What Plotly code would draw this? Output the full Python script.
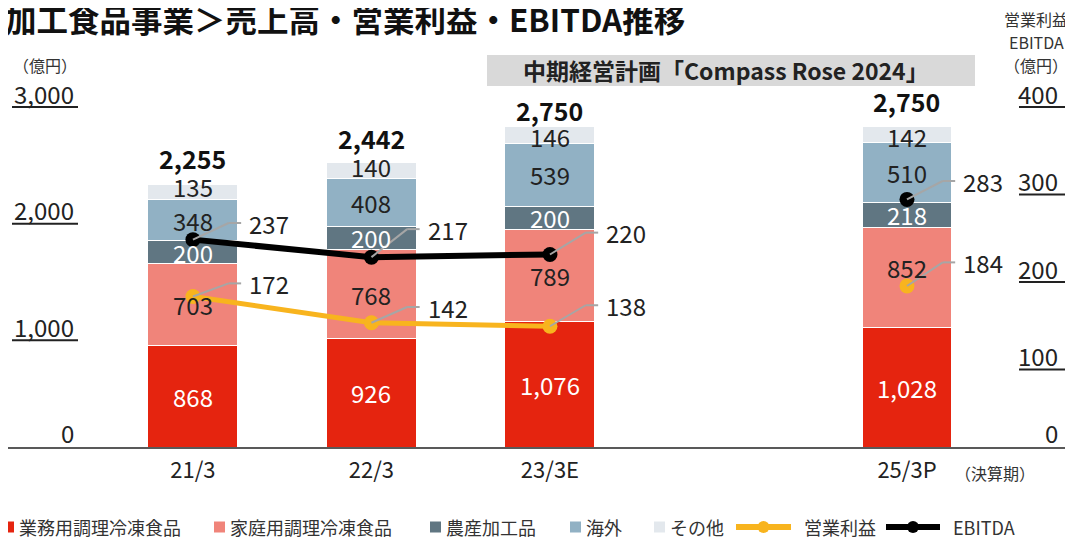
import plotly.graph_objects as go

# data (億円)
periods = ["21/3", "22/3", "23/3E", " ", "25/3P"]
gyomu = [868, 926, 1076, None, 1028]      # 業務用調理冷凍食品
katei = [703, 768, 789, None, 852]        # 家庭用調理冷凍食品
nosan = [200, 200, 200, None, 218]        # 農産加工品
kaigai = [348, 408, 539, None, 510]       # 海外
sonota = [135, 140, 146, None, 142]       # その他
totals = [2255, 2442, 2750, None, 2750]
op_profit = [172, 142, 138, None, 184]    # 営業利益
ebitda = [237, 217, 220, None, 283]       # EBITDA

left_ticks = [0, 1000, 2000, 3000]
right_ticks = [0, 100, 200, 300, 400]

FONT = "Noto Sans CJK JP"
DARK = "#222222"

# the page body has an 8px margin, so the figure is 8px smaller than the window
# and positions below are given in window pixels
OFF = 8
FIG_W, FIG_H = 1073 - OFF, 539 - OFF
PLOT_TOP, PLOT_BOTTOM = 97, 447          # window y of 3000 / 0


def px(xpix):
    return (xpix - OFF) / FIG_W


def py(ypix):
    return (PLOT_BOTTOM - ypix) / (PLOT_BOTTOM - PLOT_TOP)


fig = go.Figure()

RED, SALMON, SLATE, BLUE, PALE = "#E5240F", "#F0847A", "#607682", "#91B1C4", "#E3E8ED"
GOLD = "#F8B41E"

annotations = []
shapes = []

bar_series = [
    ("業務用調理冷凍食品", gyomu, RED, "white", [0, 0, 0, 0, 0]),
    ("家庭用調理冷凍食品", katei, SALMON, DARK, [0, 0, 0, 0, 10]),
    ("農産加工品", nosan, SLATE, "white", [0, 0, 0, 0, 0]),
    ("海外", kaigai, BLUE, DARK, [0, 0, 0, 0, 0]),
    ("その他", sonota, PALE, DARK, [5, 4, -2, 0, -2]),
]
base = [0] * len(periods)
for name, vals, color, tcolor, lshift in bar_series:
    fig.add_trace(go.Bar(
        x=periods, y=vals, name=name,
        marker=dict(color=color, line=dict(color="white", width=1)),
        width=0.504, hoverinfo="skip", showlegend=False,
    ))
    # segment value labels, centred in each segment
    for i, v in enumerate(vals):
        if v is None:
            continue
        annotations.append(dict(
            x=i, y=base[i] + v / 2, xref="x", yref="y", text=f"{v:,}",
            showarrow=False, xanchor="center", yanchor="middle",
            yshift=lshift[i],
            font=dict(family=FONT, size=24, color=tcolor),
        ))
        base[i] += v

fig.add_trace(go.Scatter(
    x=periods, y=op_profit, name="営業利益", yaxis="y2",
    mode="lines+markers", connectgaps=False,
    line=dict(color=GOLD, width=5),
    marker=dict(size=15, color=GOLD), showlegend=False,
))
fig.add_trace(go.Scatter(
    x=periods, y=ebitda, name="EBITDA", yaxis="y2",
    mode="lines+markers", connectgaps=False,
    line=dict(color="black", width=6),
    marker=dict(size=15, color="black"), showlegend=False,
))

# total labels above the bars
total_shift = [26, 24, 16, 0, 25]
for i, t in enumerate(totals):
    if t is None:
        continue
    annotations.append(dict(
        x=i, y=t, xref="x", yref="y", text=f"<b>{t:,}</b>",
        showarrow=False, xanchor="center", yanchor="middle",
        yshift=total_shift[i],
        font=dict(family=FONT, size=25, color="#111111"),
    ))

# leader lines + value labels for the two lines (offsets in y2 units)
op_dy = [15, 18, 24, 0, 27]
eb_dy = [19, 32, 25, 0, 21]
for vals, dys in [(op_profit, op_dy), (ebitda, eb_dy)]:
    for i, v in enumerate(vals):
        if v is None:
            continue
        yl = v + dys[i]
        shapes.append(dict(type="line", xref="x", yref="y2",
                           x0=i, y0=v, x1=i + 0.2, y1=yl,
                           line=dict(color="#A6A6A6", width=2)))
        shapes.append(dict(type="line", xref="x", yref="y2",
                           x0=i + 0.2, y0=yl, x1=i + 0.27, y1=yl,
                           line=dict(color="#A6A6A6", width=2)))
        annotations.append(dict(
            x=i + 0.27, y=yl, xref="x", yref="y2", text=str(v),
            showarrow=False, xanchor="left", yanchor="middle", xshift=6,
            font=dict(family=FONT, size=24, color=DARK),
        ))

# axis tick labels with underlines
for v in left_ticks:
    annotations.append(dict(
        x=px(76), y=v, xref="paper", yref="y", text=f"{v:,}",
        showarrow=False, xanchor="right", yanchor="middle",
        yshift=15 if v == 0 else 4,
        font=dict(family=FONT, size=24, color=DARK),
    ))
    if v:
        shapes.append(dict(type="line", xref="paper", yref="y",
                           ysizemode="pixel", yanchor=v, y0=-10, y1=-10,
                           x0=px(12), x1=px(78),
                           line=dict(color="#222222", width=2)))
for v in right_ticks:
    annotations.append(dict(
        x=px(1060), y=v, xref="paper", yref="y2", text=f"{v:,}",
        showarrow=False, xanchor="right", yanchor="middle",
        yshift=15 if v == 0 else 4,
        font=dict(family=FONT, size=24, color=DARK),
    ))
    if v:
        shapes.append(dict(type="line", xref="paper", yref="y2",
                           ysizemode="pixel", yanchor=v, y0=-10, y1=-10,
                           x0=px(1019), x1=1.0,
                           line=dict(color="#222222", width=2)))

# unit labels
small = dict(family=FONT, size=16, color="#333333")
for text, x, y in [("（億円）", 45, 65), ("営業利益", 1036, 19),
                   ("EBITDA", 1036, 42), ("（億円）", 1036, 65),
                   ("（決算期）", 995, 473)]:
    annotations.append(dict(x=px(x), y=py(y), xref="paper", yref="paper",
                            text=text, showarrow=False, xanchor="center",
                            yanchor="middle", font=small))

# title
annotations.append(dict(
    x=px(3), y=py(18), xref="paper", yref="paper", xanchor="left",
    yanchor="middle",
    text="<b>加工食品事業＞売上高・営業利益・EBITDA推移</b>", showarrow=False,
    font=dict(family=FONT, size=31.5, color="#111111"),
))

# mid-term plan header box
shapes.append(dict(type="rect", xref="paper", yref="paper",
                   x0=px(487), x1=px(975), y0=py(86), y1=py(55),
                   fillcolor="#D9D9D9", line=dict(width=0), layer="below"))
annotations.append(dict(
    x=px(726), y=py(70), xref="paper", yref="paper",
    xanchor="center", yanchor="middle",
    text="<b>中期経営計画「Compass Rose 2024」</b>", showarrow=False,
    font=dict(family=FONT, size=23, color="#222222"),
))

# legend drawn along the bottom
LEG_Y = 527
leg_font = dict(family=FONT, size=18, color="#333333")
square_items = [("業務用調理冷凍食品", RED, 3), ("家庭用調理冷凍食品", SALMON, 214),
                ("農産加工品", SLATE, 430), ("海外", BLUE, 570), ("その他", PALE, 654)]
for text, color, x in square_items:
    shapes.append(dict(type="rect", xref="paper", yref="paper",
                       x0=px(x), x1=px(x + 11), y0=py(LEG_Y + 5.5),
                       y1=py(LEG_Y - 5.5), fillcolor=color, line=dict(width=0)))
    annotations.append(dict(x=px(x + 14), y=py(LEG_Y), xref="paper",
                            yref="paper", text=text, showarrow=False,
                            xanchor="left", yanchor="middle", font=leg_font))
line_items = [("営業利益", GOLD, 736, 791), ("EBITDA", "black", 886, 940)]
for text, color, x0, x1 in line_items:
    shapes.append(dict(type="line", xref="paper", yref="paper",
                       x0=px(x0), x1=px(x1), y0=py(LEG_Y), y1=py(LEG_Y),
                       line=dict(color=color, width=6)))
    xm = (x0 + x1) / 2
    shapes.append(dict(type="circle", xref="paper", yref="paper",
                       x0=px(xm - 6), x1=px(xm + 6), y0=py(LEG_Y + 6),
                       y1=py(LEG_Y - 6), fillcolor=color, line=dict(width=0)))
    annotations.append(dict(x=px(x1 + 11), y=py(LEG_Y), xref="paper",
                            yref="paper", text=text, showarrow=False,
                            xanchor="left", yanchor="middle", font=leg_font))

fig.update_layout(
    width=FIG_W, height=FIG_H,
    margin=dict(l=0, r=0, t=PLOT_TOP - OFF, b=FIG_H - (PLOT_BOTTOM - OFF)),
    paper_bgcolor="white", plot_bgcolor="white",
    barmode="stack", showlegend=False,
    font=dict(family=FONT, color=DARK),
    xaxis=dict(type="category", range=[-1.036, 4.93],
               showline=True, linecolor="#595959", linewidth=2,
               ticks="", tickfont=dict(family=FONT, size=22, color=DARK),
               ticklabelstandoff=3, showgrid=False, zeroline=False),
    yaxis=dict(range=[0, 3000], showticklabels=False, showgrid=False,
               zeroline=False, showline=False),
    yaxis2=dict(range=[0, 400], overlaying="y", side="right",
                showticklabels=False, showgrid=False, zeroline=False,
                showline=False),
    annotations=annotations,
    shapes=shapes,
)

fig.write_html("out.html")
